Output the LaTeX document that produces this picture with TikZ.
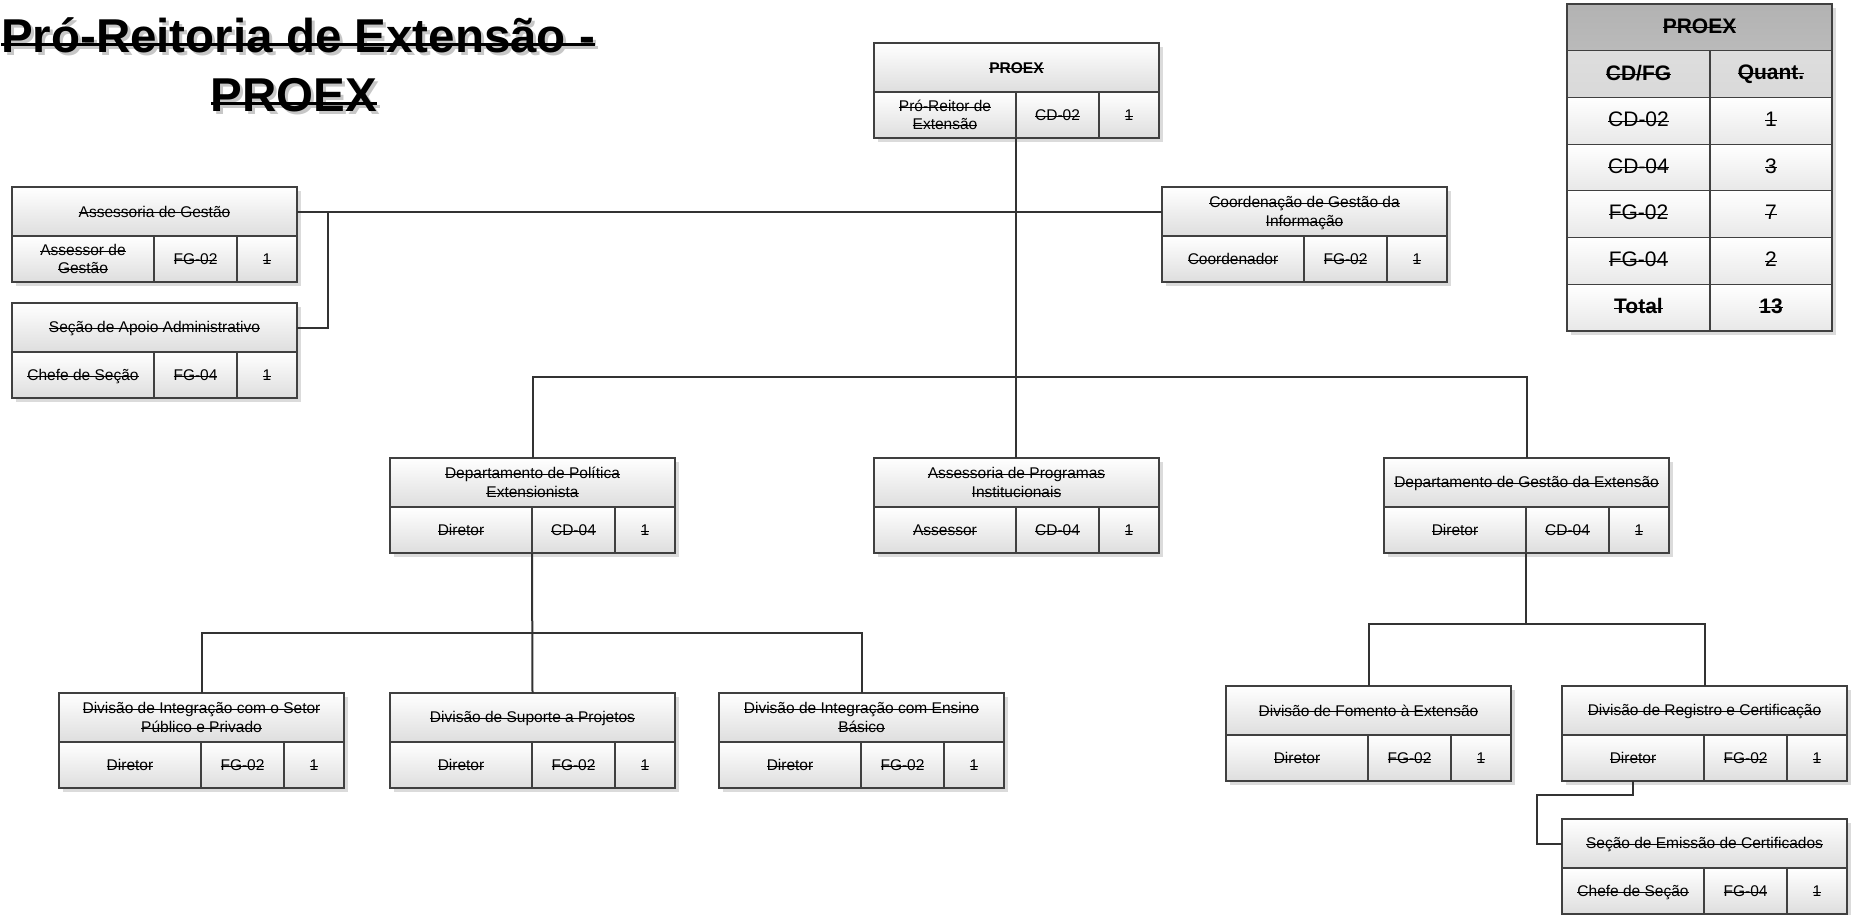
\documentclass[tikz,border=0pt]{standalone}
\usepackage{fontspec}
\setmainfont{Liberation Sans}

% struck-through text, as the picture prints it
\newsavebox{\strkbox}
\newcommand{\strike}[1]{\sbox{\strkbox}{#1}\leavevmode\rule[-3pt]{0pt}{17pt}\rlap{\usebox{\strkbox}}\rule[\dimexpr0.5ex-0.45pt\relax]{\wd\strkbox}{0.9pt}}
\newcommand{\bigstrike}[1]{\sbox{\strkbox}{#1}\leavevmode\rlap{\usebox{\strkbox}}\rule[\dimexpr0.3ex-1.3pt\relax]{\wd\strkbox}{2.6pt}}

% one unit: header on top, then role / code / quantity
\newcommand{\orgunit}[7]{%
  \fill[boxshadow] (#2+4,#3+4) rectangle ++(285,95);
  \node[unithead, anchor=north west] (#1) at (#2,#3) {#4};
  \node[unitcell, minimum width=142pt, anchor=north west] (#1-r) at (#1.south west) {#5};
  \node[unitcell, minimum width=83pt, anchor=north west] (#1-c) at (#1-r.north east) {#6};
  \node[unitcell, minimum width=60pt, anchor=north west] (#1-q) at (#1-c.north east) {#7};
}

\begin{document}
\begin{tikzpicture}[x=1pt, y=-1pt,
    unithead/.style={draw=black!75, line width=1.2pt, top color=white, bottom color=black!13,
      minimum width=285pt, minimum height=49pt, inner sep=2pt, outer sep=0pt, align=center,
      font=\fontsize{15.5}{18.5}\selectfont},
    unitcell/.style={unithead, minimum height=46pt},
    boxshadow/.style={fill=black!14},
    link/.style={draw=black!80, line width=2pt},
    tabcell/.style={draw=black!75, line width=1.2pt, top color=white, bottom color=black!9,
      minimum height=46.7pt, inner sep=2pt, outer sep=0pt, font=\fontsize{21}{24}\selectfont},
    title/.style={font=\fontsize{47.5}{56}\selectfont\bfseries, anchor=base, inner sep=0pt}]
    \useasboundingbox (0,0) rectangle (1854,914);

    % Title
    \node[title, text=black!22] (title-sh) at (301,55) {\bigstrike{Pró-Reitoria de Extensão -}};
    \node[title] (title) at (298,52) {\bigstrike{Pró-Reitoria de Extensão -}};
    \node[title, text=black!22] (title2-sh) at (297,114) {\bigstrike{PROEX}};
    \node[title] (title2) at (294,111) {\bigstrike{PROEX}};

    % Define units
    \orgunit{proex}{874}{43}{\textbf{\strike{PROEX}}}{\strike{Pró-Reitor de}\\\strike{Extensão}}{\strike{CD-02}}{\strike{1}}
    \orgunit{assgest}{12}{187}{\strike{Assessoria de Gestão}}{\strike{Assessor de}\\\strike{Gestão}}{\strike{FG-02}}{\strike{1}}
    \orgunit{secapoio}{12}{303}{\strike{Seção de Apoio Administrativo}}{\strike{Chefe de Seção}}{\strike{FG-04}}{\strike{1}}
    \orgunit{coordinf}{1162}{187}{\strike{Coordenação de Gestão da}\\\strike{Informação}}{\strike{Coordenador}}{\strike{FG-02}}{\strike{1}}
    \orgunit{deppol}{390}{458}{\strike{Departamento de Política}\\\strike{Extensionista}}{\strike{Diretor}}{\strike{CD-04}}{\strike{1}}
    \orgunit{assprog}{874}{458}{\strike{Assessoria de Programas}\\\strike{Institucionais}}{\strike{Assessor}}{\strike{CD-04}}{\strike{1}}
    \orgunit{depgest}{1384}{458}{\strike{Departamento de Gestão da Extensão}}{\strike{Diretor}}{\strike{CD-04}}{\strike{1}}
    \orgunit{divsetor}{59}{693}{\strike{Divisão de Integração com o Setor}\\\strike{Público e Privado}}{\strike{Diretor}}{\strike{FG-02}}{\strike{1}}
    \orgunit{divsup}{390}{693}{\strike{Divisão de Suporte a Projetos}}{\strike{Diretor}}{\strike{FG-02}}{\strike{1}}
    \orgunit{divens}{719}{693}{\strike{Divisão de Integração com Ensino}\\\strike{Básico}}{\strike{Diretor}}{\strike{FG-02}}{\strike{1}}
    \orgunit{divfom}{1226}{686}{\strike{Divisão de Fomento à Extensão}}{\strike{Diretor}}{\strike{FG-02}}{\strike{1}}
    \orgunit{divreg}{1562}{686}{\strike{Divisão de Registro e Certificação}}{\strike{Diretor}}{\strike{FG-02}}{\strike{1}}
    \orgunit{secemis}{1562}{819}{\strike{Seção de Emissão de Certificados}}{\strike{Chefe de Seção}}{\strike{FG-04}}{\strike{1}}

    % Draw links
    \draw[link] (proex-r.south east) -- (proex-r.south east |- assprog.north);
    \draw[link] (assgest.east) -- (coordinf.west);
    \draw[link] (secapoio.east) -- ++(31,0) |- (assgest.east);
    \draw[link] (deppol.north) -- ++(0,-81) -| (depgest.north);
    \draw[link] (deppol-r.south east) -- (divsup.north);
    \draw[link] (divsetor.north) -- ++(0,-60) -| (divens.north);
    \path (divfom.north) ++(0,-62) coordinate (jr);
    \draw[link] (depgest-r.south east) -- (depgest-r.south east |- jr);
    \draw[link] (divfom.north) -- (jr) -| (divreg.north);
    \draw[link] (divreg-r.south) -- ++(0,14) -- ++(-96,0) |- (secemis.west);

    % Summary table
    \fill[boxshadow] (1571,8) rectangle ++(265,327);
    \node[tabcell, minimum width=265pt, top color=black!30, bottom color=black!27, anchor=north west] (tab-t) at (1567,4) {\textbf{\strike{PROEX}}};
    \node[tabcell, minimum width=143pt, top color=black!13, bottom color=black!15, anchor=north west] (tab-k1) at (tab-t.south west) {\textbf{\strike{CD/FG}}};
    \node[tabcell, minimum width=122pt, top color=black!13, bottom color=black!15, anchor=north west] (tab-k2) at (tab-k1.north east) {\textbf{\strike{Quant.}}};
    \node[tabcell, minimum width=143pt, anchor=north west] (tab-a1) at (tab-k1.south west) {\strike{CD-02}};
    \node[tabcell, minimum width=122pt, anchor=north west] (tab-a2) at (tab-a1.north east) {\strike{1}};
    \node[tabcell, minimum width=143pt, anchor=north west] (tab-b1) at (tab-a1.south west) {\strike{CD-04}};
    \node[tabcell, minimum width=122pt, anchor=north west] (tab-b2) at (tab-b1.north east) {\strike{3}};
    \node[tabcell, minimum width=143pt, anchor=north west] (tab-c1) at (tab-b1.south west) {\strike{FG-02}};
    \node[tabcell, minimum width=122pt, anchor=north west] (tab-c2) at (tab-c1.north east) {\strike{7}};
    \node[tabcell, minimum width=143pt, anchor=north west] (tab-d1) at (tab-c1.south west) {\strike{FG-04}};
    \node[tabcell, minimum width=122pt, anchor=north west] (tab-d2) at (tab-d1.north east) {\strike{2}};
    \node[tabcell, minimum width=143pt, anchor=north west] (tab-e1) at (tab-d1.south west) {\textbf{\strike{Total}}};
    \node[tabcell, minimum width=122pt, anchor=north west] (tab-e2) at (tab-e1.north east) {\textbf{\strike{13}}};
\end{tikzpicture}
\end{document}
